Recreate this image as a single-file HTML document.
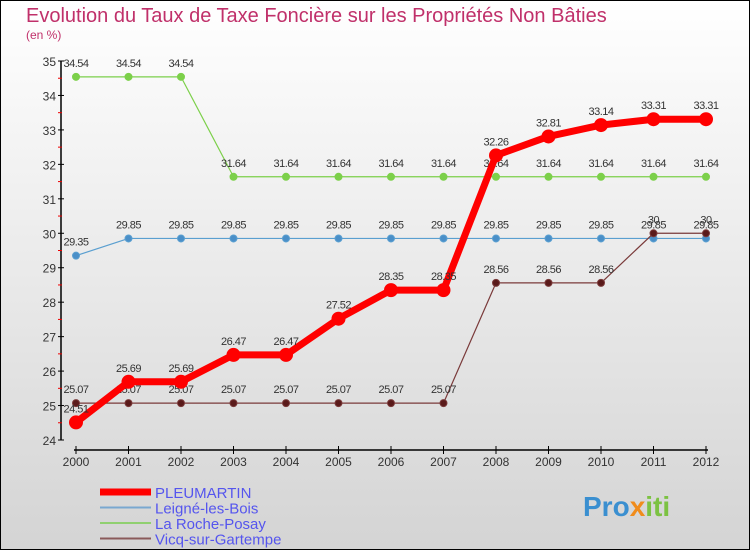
<!DOCTYPE html>
<html><head><meta charset="utf-8"><style>
body{margin:0;width:750px;height:550px;overflow:hidden;font-family:"Liberation Sans",sans-serif}
svg{display:block}
</style></head><body>
<svg id="c" width="750" height="550" xmlns="http://www.w3.org/2000/svg">
<defs><linearGradient id="bg" x1="0" y1="0" x2="0" y2="1"><stop offset="0" stop-color="#ffffff"/><stop offset="1" stop-color="#d4d4d4"/></linearGradient></defs>
<rect x="0.5" y="0.5" width="749" height="549" fill="url(#bg)" stroke="#000"/>
<text x="26" y="22" font-size="20" fill="#c0306a">Evolution du Taux de Taxe Foncière sur les Propriétés Non Bâties</text>
<text x="26" y="39" font-size="12" fill="#c0306a">(en %)</text>
<g id="axes"></g><g id="series"></g><g id="legend"></g>
<text x="583" y="516" font-size="28" font-weight="bold" fill="#3a8fd0">Pro<tspan fill="#f08c1c">x</tspan><tspan fill="#7cc242">iti</tspan></text>
</svg>
<script>
const years=[2000,2001,2002,2003,2004,2005,2006,2007,2008,2009,2010,2011,2012];
const yTicks=[24,25,26,27,28,29,30,31,32,33,34,35];
const pleumartin=[24.51,25.69,25.69,26.47,26.47,27.52,28.35,28.35,32.26,32.81,33.14,33.31,33.31];
const leigne=[29.35,29.85,29.85,29.85,29.85,29.85,29.85,29.85,29.85,29.85,29.85,29.85,29.85];
const roche=[34.54,34.54,34.54,31.64,31.64,31.64,31.64,31.64,31.64,31.64,31.64,31.64,31.64];
const vicq=[25.07,25.07,25.07,25.07,25.07,25.07,25.07,25.07,28.56,28.56,28.56,30,30];
const NS="http://www.w3.org/2000/svg";
const X=i=>76+i*52.5, Y=v=>440-(v-24)*(379/11);
function mk(t,a,p){const e=document.createElementNS(NS,t);for(const k in a)e.setAttribute(k,a[k]);p.appendChild(e);return e;}
const ax=document.getElementById('axes');
let l=mk('line',{x1:61,y1:61,x2:61,y2:440,stroke:'#000','stroke-width':1.5},ax);


yTicks.forEach(v=>{mk('line',{x1:58,x2:64,y1:Y(v),y2:Y(v),stroke:'#000'},ax);
 if(v<35)mk('line',{x1:58,x2:62,y1:Y(v+0.5),y2:Y(v+0.5),stroke:'#e00'},ax);
 const t=mk('text',{x:56,y:Y(v)+5,'font-size':12,'text-anchor':'end',fill:'#333'},ax);t.textContent=v;
 
 });
l=mk('line',{x1:74,y1:450,x2:708,y2:450,stroke:'#000','stroke-width':1.5},ax);


years.forEach((y,i)=>{mk('line',{x1:X(i),x2:X(i),y1:446,y2:454,stroke:'#000'},ax);
 const t=mk('text',{x:X(i),y:466,'font-size':12,'text-anchor':'middle',fill:'#333'},ax);t.textContent=y;
 
 });
const sg=document.getElementById('series');
function series(name,data,color,w,r,dot){
 const g=mk('g',{},sg);
 
 
 mk('polyline',{points:data.map((v,i)=>X(i)+','+Y(v)).join(' '),fill:'none',stroke:color,'stroke-width':w,'stroke-linejoin':'round'},g);
 data.forEach((v,i)=>{const c=mk('circle',{cx:X(i),cy:Y(v),r:r,fill:dot,stroke:color,'stroke-width':1},g);
  
  
  const t=mk('text',{x:X(i),y:Y(v)-10,'font-size':11,'text-anchor':'middle',fill:'#333','letter-spacing':'-0.5'},g);t.textContent=v;
  
  });
}
series('roche',roche,'#7cd04a',1.2,3.5,'#7cd04a');
series('leigne',leigne,'#5a9fd0',1.2,3.5,'#4a8fc8');
series('vicq',vicq,'#7a3a3a',1.2,3.5,'#5a1a1a');
series('pleumartin',pleumartin,'#f00',7,6.5,'#f00');
const lg=document.getElementById('legend');
[['PLEUMARTIN','#f00',7],['Leigné-les-Bois','#7aa8d0',2],['La Roche-Posay','#90d070',2],['Vicq-sur-Gartempe','#8a5a5a',2]].forEach((d,i)=>{
 const y=492+i*15.5;
 const g=mk('g',{},lg);
 
 
 mk('line',{x1:100,x2:151,y1:y,y2:y,stroke:d[1],'stroke-width':d[2]},g);
 const t=mk('text',{x:155,y:y+6,'font-size':15,fill:'#5555ee'},g);t.textContent=d[0];
});
</script>
</body></html>
